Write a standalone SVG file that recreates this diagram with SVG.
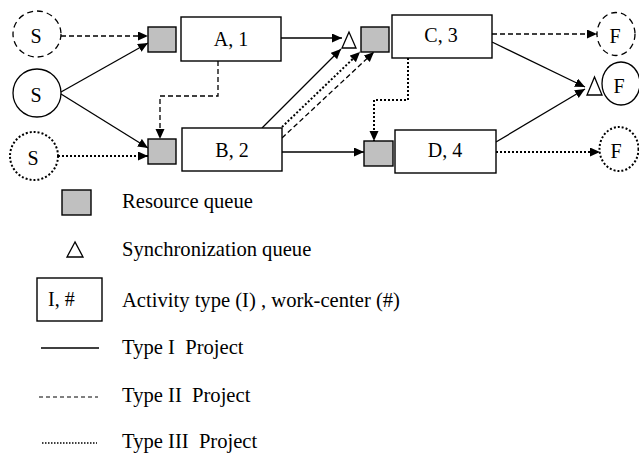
<svg xmlns="http://www.w3.org/2000/svg" width="639" height="459" viewBox="0 0 639 459">
<style>
text{font-family:"Liberation Serif","Times New Roman",serif;font-size:20px;fill:#000}
.lg{font-size:20.6px}
.lbl{text-anchor:middle}
.box{fill:#fff;stroke:#000;stroke-width:1.4}
.sq{fill:#c0c0c0;stroke:#000;stroke-width:1.4}
.tri{fill:#fff;stroke:#000;stroke-width:1.3}
.sol{fill:none;stroke:#000;stroke-width:1.3}
.dsh{fill:none;stroke:#000;stroke-width:1.3;stroke-dasharray:5,3}
.dot{fill:none;stroke:#000;stroke-width:2;stroke-dasharray:2,2}
.ec{fill:#fff;stroke:#000;stroke-width:1.3}
.ecd{fill:#fff;stroke:#000;stroke-width:1.3;stroke-dasharray:6,4}
.ect{fill:#fff;stroke:#000;stroke-width:2;stroke-dasharray:2,2}
</style>
<defs>
<marker id="ah" markerUnits="userSpaceOnUse" markerWidth="11" markerHeight="10" refX="10" refY="4.5" orient="auto">
<path d="M0,0 L10,4.5 L0,9 z" fill="#000"/>
</marker>
</defs>
<g id="connectors">
<line class="dsh" x1="61" y1="36" x2="148" y2="36" marker-end="url(#ah)"/>
<line class="sol" x1="61" y1="92" x2="148" y2="43" marker-end="url(#ah)"/>
<line class="sol" x1="61" y1="94" x2="148" y2="148" marker-end="url(#ah)"/>
<line class="dot" x1="58" y1="156" x2="148" y2="156" marker-end="url(#ah)"/>
<polyline class="dsh" points="218,61 218,96 160,96 160,139" marker-end="url(#ah)"/>
<line class="sol" x1="281" y1="38" x2="342" y2="38" marker-end="url(#ah)"/>
<line class="sol" x1="262" y1="128" x2="341" y2="49" marker-end="url(#ah)"/>
<line class="dot" x1="282" y1="127" x2="360" y2="52" marker-end="url(#ah)"/>
<line class="dsh" x1="282" y1="138" x2="374" y2="52" marker-end="url(#ah)"/>
<polyline class="dot" points="408,58 408,100 374,100 374,141" marker-end="url(#ah)"/>
<line class="sol" x1="282" y1="152" x2="364" y2="152" marker-end="url(#ah)"/>
<line class="dsh" x1="492" y1="34" x2="597" y2="34" marker-end="url(#ah)"/>
<line class="sol" x1="492" y1="42" x2="585" y2="87" marker-end="url(#ah)"/>
<line class="sol" x1="496" y1="142" x2="585" y2="89" marker-end="url(#ah)"/>
<line class="dot" x1="496" y1="152" x2="600" y2="152" marker-end="url(#ah)"/>
</g>
<g id="S1"><ellipse class="ecd" cx="37" cy="34" rx="24" ry="23"/><text class="lbl" x="36" y="43">S</text></g>
<g id="S2"><ellipse class="ec" cx="37" cy="93" rx="24" ry="24"/><text class="lbl" x="36" y="102">S</text></g>
<g id="S3"><ellipse class="ect" cx="34" cy="156" rx="24" ry="24"/><text class="lbl" x="33" y="165">S</text></g>
<g id="QA"><rect class="sq" x="148" y="27" width="28" height="25"/></g>
<g id="A"><rect class="box" x="181" y="17" width="100" height="44"/><text class="lbl" x="231" y="46">A, 1</text></g>
<g id="QB"><rect class="sq" x="148" y="139" width="28" height="25"/></g>
<g id="B"><rect class="box" x="182" y="128" width="100" height="43"/><text class="lbl" x="232" y="157">B, 2</text></g>
<g id="T1"><polygon class="tri" points="349,32 342,48 356,48"/></g>
<g id="QC"><rect class="sq" x="361" y="27" width="28" height="25"/></g>
<g id="C"><rect class="box" x="392" y="15" width="100" height="43"/><text class="lbl" x="441" y="42">C, 3</text></g>
<g id="QD"><rect class="sq" x="364" y="141" width="29" height="25"/></g>
<g id="D"><rect class="box" x="395" y="130" width="101" height="43"/><text class="lbl" x="445" y="157">D, 4</text></g>
<g id="T2"><polygon class="tri" points="594.5,77 587,95 602,95"/></g>
<g id="F1"><ellipse class="ecd" cx="616" cy="34" rx="19" ry="21.5"/><text class="lbl" x="615" y="43">F</text></g>
<g id="F2"><ellipse class="ec" cx="621" cy="83.5" rx="19" ry="21.5"/><text class="lbl" x="619" y="93">F</text></g>
<g id="F3"><ellipse class="ect" cx="619" cy="149" rx="19.5" ry="22"/><text class="lbl" x="616" y="158">F</text></g>
<g id="legend">
<rect class="sq" x="62" y="190" width="29" height="25"/>
<text class="lg" x="122" y="208">Resource queue</text>
<polygon class="tri" points="75,242 67,257 83,257"/>
<text class="lg" x="122" y="256">Synchronization queue</text>
<rect class="box" x="37" y="278" width="65" height="43"/>
<text x="48" y="306">I, #</text>
<text class="lg" x="122" y="307">Activity type (I) , work-center (#)</text>
<line class="sol" x1="41" y1="348" x2="99" y2="348"/>
<text class="lg" x="122" y="354" xml:space="preserve">Type I  Project</text>
<line x1="39" y1="397" x2="98" y2="397" stroke="#000" stroke-width="1" stroke-dasharray="4,3"/>
<text class="lg" x="122" y="402" xml:space="preserve">Type II  Project</text>
<line x1="42" y1="443" x2="97" y2="443" stroke="#000" stroke-width="1.5" stroke-dasharray="1.5,1.5"/>
<text class="lg" x="122" y="448" xml:space="preserve">Type III  Project</text>
</g>
</svg>
